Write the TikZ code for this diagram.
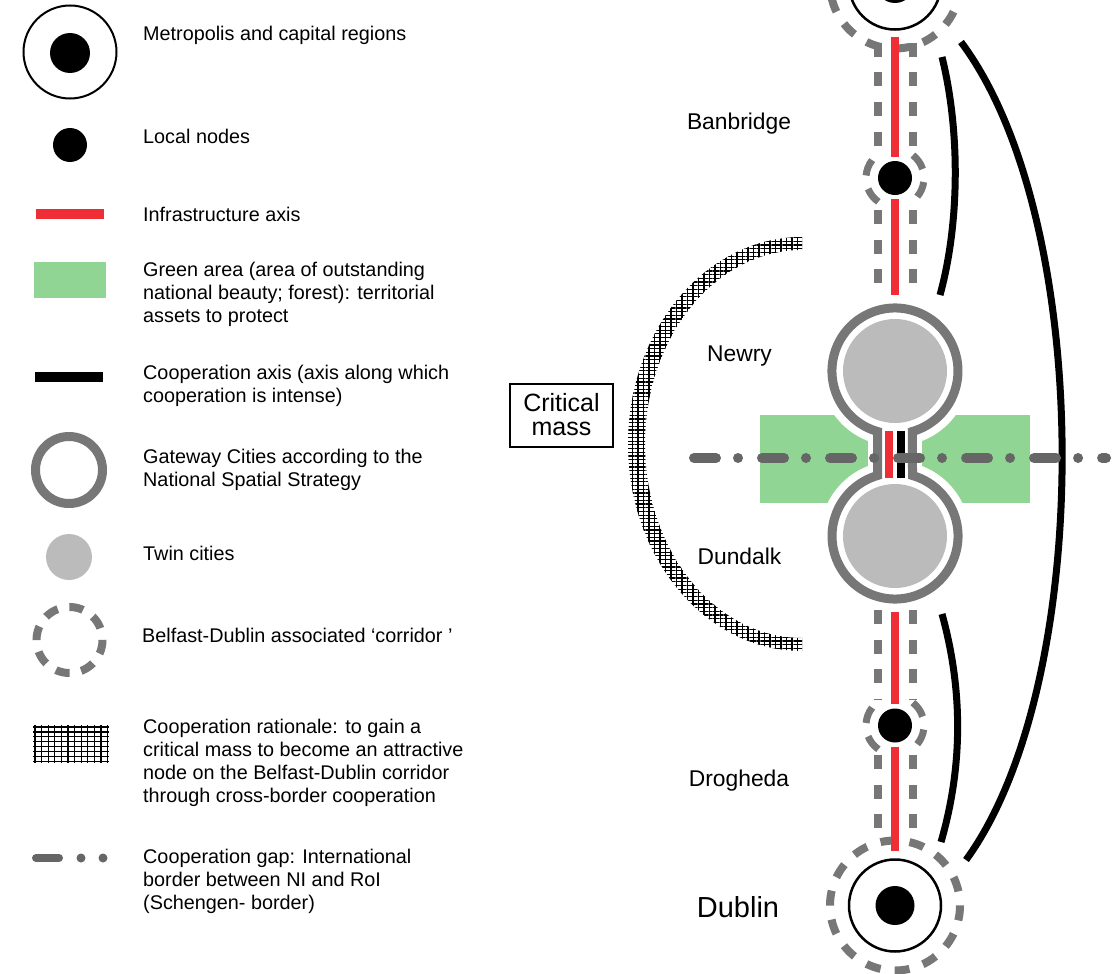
\documentclass[tikz,border=0pt]{standalone}
\usepackage{fontspec}
\setmainfont{Liberation Sans}
\usetikzlibrary{patterns.meta}
\definecolor{infred}{HTML}{EE2D35}
\definecolor{grn}{HTML}{90D593}
\definecolor{ringgray}{HTML}{777777}
\definecolor{twingray}{HTML}{BBBBBB}
\definecolor{bordergray}{HTML}{666666}
\newcommand{\mylines}[1]{\begin{tabular}[t]{@{}l@{}}#1\end{tabular}}
\begin{document}
\begin{tikzpicture}[x=1pt,y=-1pt,
  leg/.style={anchor=base west, inner sep=0pt, font=\fontsize{19.8}{23.3}\selectfont},
  lbl/.style={anchor=base, inner sep=0pt, font=\fontsize{22.8}{26}\selectfont},
  blackdisc/.style={circle, fill=black, inner sep=0pt, minimum size=#1},
  metroring/.style={circle, draw=black, line width=2.5pt, inner sep=0pt, minimum size=92pt},
  twindisc/.style={circle, fill=twingray, inner sep=0pt, minimum size=104pt},
  infaxis/.style={infred, line width=8pt},
  coopaxis/.style={black, line width=7pt},
  corrdash/.style={ringgray, line width=8pt, dash pattern=on 14pt off 15.5pt},
  corrring/.style={ringgray, line width=8pt, dash pattern=on 15pt off 14.17pt},
  gapline/.style={bordergray, line width=10pt, line cap=round, dash pattern=on 22pt off 22pt on 0.01pt off 24pt}
]
\useasboundingbox (0,0) rectangle (1114,974);

% ---------------- Legend ----------------
\draw[black, line width=2pt] (70,52) circle[radius=46.5];
\fill[black] (70,53) circle[radius=20];
\node[leg] (l1) at (143,41) {Metropolis and capital regions};

\fill[black] (70,145) circle[radius=17];
\node[leg] (l2) at (143,143) {Local nodes};

\fill[infred] (36,209) rectangle (104,219);
\node[leg] (l3) at (143,221) {Infrastructure axis};

\fill[grn] (34,262) rectangle (106,298);
\node[leg] (l4) at (143,276) {\mylines{Green area (area of outstanding\\national beauty; forest): territorial\\assets to protect}};

\fill[black] (35,372) rectangle (103,382);
\node[leg] (l5) at (143,379) {\mylines{Cooperation axis (axis along which\\cooperation is intense)}};

\draw[ringgray, line width=9pt] (69,470) circle[radius=33.5];
\node[leg] (l6) at (143,463) {\mylines{Gateway Cities according to the\\National Spatial Strategy}};

\fill[twingray] (69,557) circle[radius=23];
\node[leg] (l7) at (143,560) {Twin cities};

\draw[ringgray, line width=8pt, dash pattern=on 14pt off 11.9pt] (69.5,640) circle[radius=33];
\node[leg] (l8) at (142,642) {Belfast-Dublin associated ‘corridor ’};

\foreach \i in {0,...,11} \draw[line width=1.3pt] ({35+\i*6.6},725) -- ({35+\i*6.6},763);
\foreach \j in {0,...,7} \draw[line width=1.3pt] (33,{727+\j*4.9}) -- (109,{727+\j*4.9});
\node[leg] (l9) at (143,733) {\mylines{Cooperation rationale: to gain a\\critical mass to become an attractive\\node on the Belfast-Dublin corridor\\through cross-border cooperation}};

\draw[bordergray, line width=8pt, line cap=round] (36,858) -- (59,858);
\fill[bordergray] (81,858) circle[radius=4.5] (103,858) circle[radius=4.5];
\node[leg] (l10) at (143,863) {\mylines{Cooperation gap: International\\border between NI and RoI\\(Schengen- border)}};

% ---------------- Right diagram ----------------
% green area and white halo around twin cities
\fill[grn] (760,415) rectangle (1030,503);
\fill[white] (895,371) circle[radius=75] (895,536) circle[radius=75];
\fill[white] (868,371) rectangle (922,536);

% Belfast (top) and Dublin (bottom)
\draw[corrring] (895,-16.5) circle[radius=65];
\node[metroring] (belfast) at (895,-16.5) {};
\node[blackdisc=39pt] (belfastc) at (895,-16.5) {};
\draw[corrring] (895,905.5) circle[radius=65];
\node[metroring] (dublin) at (895,905.5) {};
\node[blackdisc=39pt] (dublinc) at (895,905.5) {};

% local nodes with dashed rings
\node[blackdisc=34pt] (banbridge) at (895,178) {};
\node[blackdisc=34pt] (drogheda) at (895,725.5) {};
\foreach \cy in {178,725.5}
  \foreach \a/\b in {8/40,125/158,185/218,308/342}
    \draw[ringgray, line width=7pt] ({895+29*cos(\a)},{\cy+29*sin(\a)}) arc[start angle=\a, end angle=\b, radius=29];

% twin cities Newry / Dundalk
\draw[ringgray, line width=9pt, fill=white] (877.5,431.5) arc[start angle=106.1, end angle=433.9, radius=63]
  -- (912.5,475.5) arc[start angle=-73.9, end angle=253.9, radius=63] -- cycle;
\node[twindisc] (newry) at (895,371) {};
\node[twindisc] (dundalk) at (895,536) {};
\draw[infaxis, shorten <=8pt, shorten >=6pt] ([xshift=-6pt]newry.south) -- ([xshift=-6pt]dundalk.north);
\draw[coopaxis, line width=8pt, shorten <=8pt, shorten >=6pt] ([xshift=6pt]newry.south) -- ([xshift=6pt]dundalk.north);

% infrastructure axis
\draw[infaxis, shorten <=6pt, shorten >=4pt] (belfast.south) -- (banbridge.north);
\draw[infaxis, shorten <=4pt, shorten >=24pt] (banbridge.south) -- (newry.north);
\draw[infaxis, shorten <=24pt, shorten >=4pt] (dundalk.south) -- (drogheda.north);
\draw[infaxis, shorten <=4pt, shorten >=7pt] (drogheda.south) -- (dublin.north);

% corridor dashed lines
\foreach \s in {-17.5,17.5} {
  \draw[corrdash, shorten <=12.25pt, shorten >=13.8pt] ([xshift=\s pt]belfast.south) -- ([xshift=\s pt]banbridge.north);
  \draw[corrdash, shorten <=14.8pt, shorten >=23.8pt] ([xshift=\s pt]banbridge.south) -- ([xshift=\s pt]newry.north);
  \draw[corrdash, shorten <=21.8pt, shorten >=8.3pt] ([xshift=\s pt]dundalk.south) -- ([xshift=\s pt]drogheda.north);
  \draw[corrdash, shorten <=12.3pt, shorten >=20pt] ([xshift=\s pt]drogheda.south) -- ([xshift=\s pt]dublin.north);
}

% cooperation axes
\coordinate (ct1) at (942,57);  \coordinate (ct2) at (940,295);
\coordinate (cb1) at (942,614); \coordinate (cb2) at (941,842);
\coordinate (co1) at (961,42);  \coordinate (co2) at (966,860);
\draw[coopaxis] (ct1) .. controls (960,130) and (960,222) .. (ct2);
\draw[coopaxis] (cb1) .. controls (963,690) and (963,766) .. (cb2);
\draw[coopaxis] (co1) .. controls (1095,221) and (1095,683) .. (co2);

% critical mass band
\foreach \ang/\dist in {0/3.7,90/5.5}
  \fill[pattern={Lines[angle=\ang,distance=\dist pt,line width=1.2pt]}]
    (802,237) arc[start angle=270, end angle=90, x radius=174, y radius=207]
    -- (802,638) arc[start angle=90, end angle=270, x radius=157, y radius=194] -- cycle;
\node[draw, line width=2pt, minimum width=103pt, minimum height=63pt, align=center, inner sep=0pt,
  font=\fontsize{25pt}{24pt}\selectfont] (crit) at (561.5,415) {Critical\\mass};

% border (cooperation gap)
\coordinate (g1) at (694,458); \coordinate (g2) at (1106,458);
\draw[gapline] (g1) -- (g2);

% labels
\node[lbl] (banb) at (739,129) {Banbridge};
\node[lbl] (newl) at (739.5,361) {Newry};
\node[lbl] (dunl) at (739.5,564) {Dundalk};
\node[lbl] (drol) at (739,786) {Drogheda};
\node[lbl, font=\fontsize{29}{33}\selectfont] (dubl) at (738,917) {Dublin};
\end{tikzpicture}
\end{document}
